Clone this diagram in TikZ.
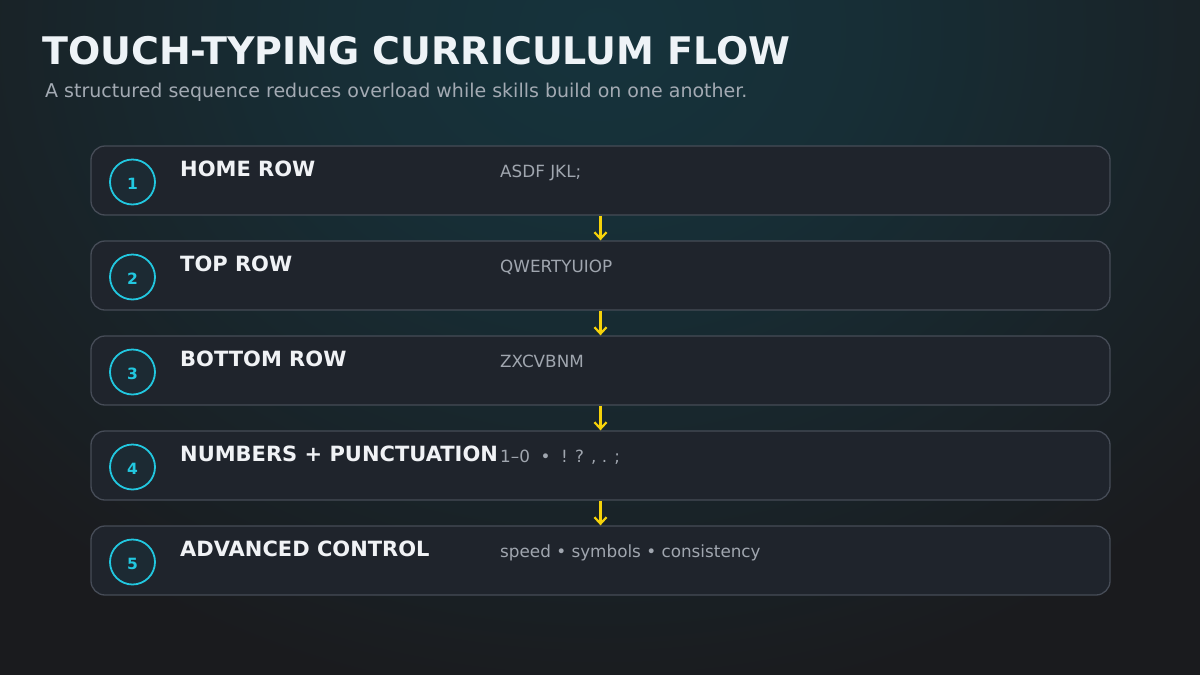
\documentclass[tikz,border=0pt]{standalone}
\usepackage{fontspec}
\setmainfont{DejaVu Sans}
\usetikzlibrary{arrows.meta}
\definecolor{bgc}{HTML}{1A1B1E}
\definecolor{glow}{HTML}{16333C}
\definecolor{cardfill}{HTML}{1F242C}
\definecolor{cardline}{HTML}{464C57}
\definecolor{cyanc}{HTML}{22C8E0}
\definecolor{circfill}{HTML}{1C2A33}
\definecolor{titlec}{HTML}{EEF3F7}
\definecolor{subc}{HTML}{A3AAB3}
\definecolor{labc}{HTML}{F0F2F5}
\definecolor{descc}{HTML}{A0A6AF}
\definecolor{arrc}{HTML}{F5D20A}
\pgfdeclareradialshading{glowsh}{\pgfpoint{0bp}{0bp}}{color(0bp)=(glow); color(8bp)=(glow!80!bgc); color(25bp)=(bgc); color(50bp)=(bgc)}
\tikzset{
  card/.style={draw=cardline, line width=1.3pt, fill=cardfill, rounded corners=14pt, minimum width=1019pt, minimum height=69pt, inner sep=0pt},
  numc/.style={circle, draw=cyanc, line width=1.8pt, fill=circfill, minimum size=45pt, inner sep=0pt},
  numt/.style={inner sep=0pt, text=cyanc, font=\bfseries\fontsize{15.5}{16}\selectfont},
  lab/.style={anchor=base west, inner sep=0pt, text=labc, font=\bfseries\fontsize{21}{21}\selectfont},
  desc/.style={anchor=base west, inner sep=0pt, text=descc, font=\fontsize{16.8}{17}\selectfont},
  flow/.style={draw=arrc, line width=2.2pt, -{Straight Barb[length=6.5pt,width=12pt,line width=2.2pt]}}
}
\begin{document}
\begin{tikzpicture}[x=1pt,y=-1pt]
\useasboundingbox (0,0) rectangle (1200,675);
\fill[bgc] (0,0) rectangle (1200,675);
\begin{scope}
\clip (0,0) rectangle (1200,675);
\shade[shading=glowsh] (600,30) ellipse (820pt and 680pt);
\end{scope}
\node[anchor=base west, inner sep=0pt, text=titlec, font=\bfseries\fontsize{38}{40}\selectfont] (title) at (42,64) {TOUCH-TYPING CURRICULUM FLOW};
\node[anchor=base west, inner sep=0pt, text=subc, font=\fontsize{19}{20}\selectfont] (sub) at (45,97) {A structured sequence reduces overload while skills build on one another.};
\foreach \i/\y/\t/\d in {
 1/180.5/HOME ROW/{ASDF JKL;},
 2/275.5/TOP ROW/QWERTYUIOP,
 3/370.5/BOTTOM ROW/ZXCVBNM,
 4/465.5/NUMBERS + PUNCTUATION/{1–0 \ • \ ! ? , . ;},
 5/560.5/ADVANCED CONTROL/{speed • symbols • consistency}} {
  \node[card] (c\i) at (600.5,\y) {};
  \node[numc] (n\i) at (132.5,\y+1.5) {};
  \node[numt] (t\i) at (132.5,\y+3) {\i};
  \node[lab] (l\i) at (180,\y-4) {\t};
  \node[desc] (d\i) at (500,\y-3) {\d};
}
\foreach \a/\b in {1/2,2/3,3/4,4/5} {
  \draw[flow] (c\a.south) -- (c\b.north);
}
\end{tikzpicture}
\end{document}
